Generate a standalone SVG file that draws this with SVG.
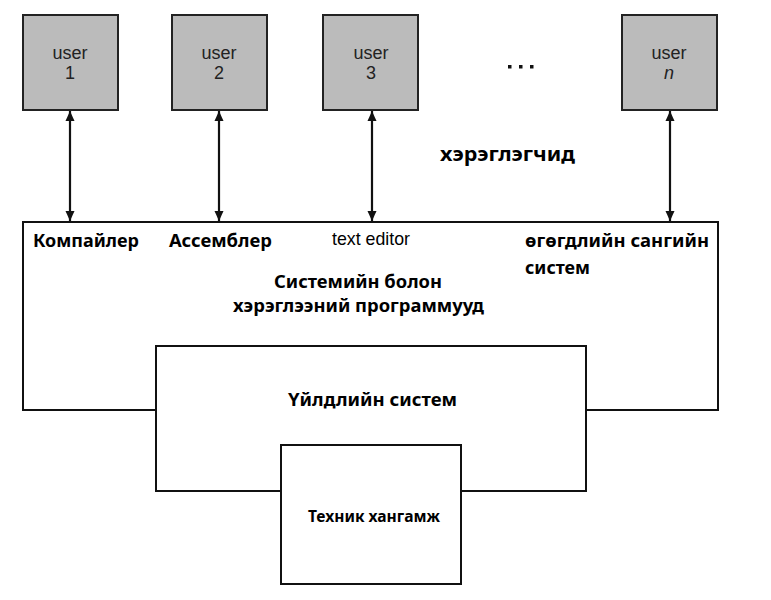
<svg xmlns="http://www.w3.org/2000/svg" width="771" height="600" viewBox="0 0 771 600">
<style>
.user rect{fill:#bbbbbb;stroke:#222;stroke-width:2}
.user text{font-family:"Liberation Sans",Arial,sans-serif;font-size:18px;fill:#222;text-anchor:middle}
.box{fill:#fff;stroke:#111;stroke-width:2}
.lbl{font-family:"Noto Sans","Open Sans",sans-serif;font-weight:bold;fill:#000}
.conn line{stroke:#111;stroke-width:2.2}
</style>
<defs>
<marker id="ah" viewBox="0 0 10 10" refX="10" refY="5" markerWidth="10" markerHeight="10" markerUnits="userSpaceOnUse" orient="auto-start-reverse">
<path d="M0,0.5 L10,5 L0,9.5 Z" fill="#111"/>
</marker>
</defs>
<rect width="771" height="600" fill="#fff"/>

<g id="apps">
<rect class="box" x="23" y="222" width="695" height="188"/>
<text class="lbl" x="33" y="247" font-size="17" textLength="106" lengthAdjust="spacingAndGlyphs">Компайлер</text>
<text class="lbl" x="169" y="247" font-size="17" textLength="103" lengthAdjust="spacingAndGlyphs">Ассемблер</text>
<text x="332" y="245" font-family="Liberation Sans, Arial, sans-serif" font-size="19" fill="#000" textLength="78" lengthAdjust="spacingAndGlyphs">text editor</text>
<text class="lbl" x="525" y="247" font-size="17" textLength="184" lengthAdjust="spacingAndGlyphs">өгөгдлийн сангийн</text>
<text class="lbl" x="525" y="274" font-size="17" textLength="65" lengthAdjust="spacingAndGlyphs">систем</text>
<text class="lbl" x="274" y="288" font-size="18" textLength="168" lengthAdjust="spacingAndGlyphs">Системийн болон</text>
<text class="lbl" x="233" y="312" font-size="18" textLength="251" lengthAdjust="spacingAndGlyphs">хэрэглээний программууд</text>
</g>

<g id="os">
<rect class="box" x="156" y="346" width="430" height="145"/>
<text class="lbl" x="288" y="406" font-size="18" textLength="169" lengthAdjust="spacingAndGlyphs">Үйлдлийн систем</text>
</g>

<g id="hardware">
<rect class="box" x="281" y="445" width="180" height="139"/>
<text class="lbl" x="308" y="522" font-size="16" textLength="132" lengthAdjust="spacingAndGlyphs">Техник хангамж</text>
</g>

<g id="user1" class="user">
<rect x="23" y="15" width="95" height="95"/>
<text x="70" y="59" textLength="35" lengthAdjust="spacingAndGlyphs">user</text>
<text x="70" y="79">1</text>
</g>
<g id="user2" class="user">
<rect x="172" y="15" width="95" height="95"/>
<text x="219" y="59" textLength="35" lengthAdjust="spacingAndGlyphs">user</text>
<text x="219" y="79">2</text>
</g>
<g id="user3" class="user">
<rect x="323" y="15" width="95" height="95"/>
<text x="371" y="59" textLength="35" lengthAdjust="spacingAndGlyphs">user</text>
<text x="371" y="79">3</text>
</g>
<g id="usern" class="user">
<rect x="622" y="15" width="95" height="95"/>
<text x="669" y="59" textLength="35" lengthAdjust="spacingAndGlyphs">user</text>
<text x="669" y="79" font-style="italic">n</text>
</g>

<g id="ellipsis" fill="#111">
<rect x="508" y="65" width="3.5" height="3.5"/>
<rect x="519" y="65" width="3.5" height="3.5"/>
<rect x="530" y="65" width="3.5" height="3.5"/>
</g>

<g id="users-label">
<text class="lbl" x="440" y="161" font-size="20" textLength="135" lengthAdjust="spacingAndGlyphs">хэрэглэгчид</text>
</g>

<g class="conn" id="connectors">
<line x1="70" y1="111" x2="70" y2="221" marker-start="url(#ah)" marker-end="url(#ah)"/>
<line x1="219" y1="111" x2="219" y2="221" marker-start="url(#ah)" marker-end="url(#ah)"/>
<line x1="372" y1="111" x2="372" y2="221" marker-start="url(#ah)" marker-end="url(#ah)"/>
<line x1="670" y1="111" x2="670" y2="221" marker-start="url(#ah)" marker-end="url(#ah)"/>
</g>
</svg>
